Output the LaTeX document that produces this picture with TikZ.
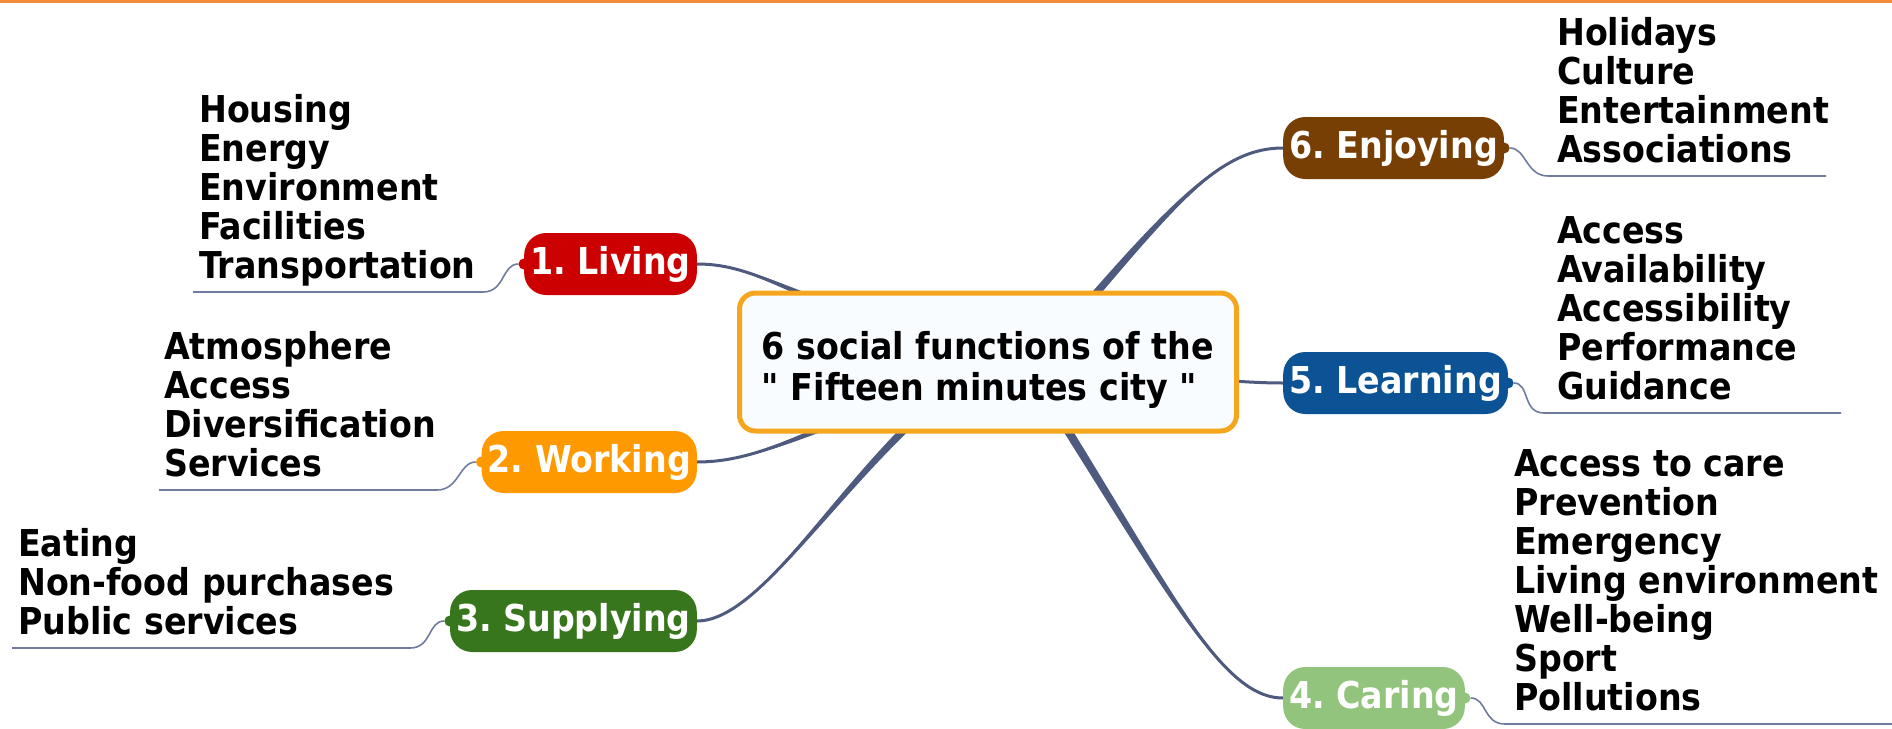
\documentclass[tikz,border=0pt]{standalone}
\usepackage{fontspec}
\setmainfont{DejaVu Sans Condensed}[Ligatures=TeXOff]
\usetikzlibrary{positioning}
\pgfdeclarelayer{background}
\pgfsetlayers{background,main}
\frenchspacing

\definecolor{topline}{HTML}{F28C3A}
\definecolor{branch}{HTML}{4E5A7E}
\definecolor{twig}{HTML}{6F7C9E}
\definecolor{rootedge}{HTML}{F5A61E}
\definecolor{rootfill}{HTML}{F8FCFE}
\definecolor{livingc}{HTML}{CC0000}
\definecolor{workingc}{HTML}{FF9900}
\definecolor{supplyc}{HTML}{38761D}
\definecolor{carec}{HTML}{93C47D}
\definecolor{learnc}{HTML}{0B5394}
\definecolor{enjoyc}{HTML}{783F04}

\tikzset{
  mapfont/.style={font=\fontsize{37}{39}\selectfont\bfseries},
  root/.style={font=\fontsize{37}{41}\selectfont\bfseries, draw=rootedge, line width=5pt,
    fill=rootfill, rounded corners=16pt, minimum width=497pt, minimum height=138pt, align=left},
  topic/.style={mapfont, text=white, fill=#1, rounded corners=22pt,
    minimum height=62pt, inner xsep=6pt},
  knot/.style={circle, fill=#1, inner sep=0pt, minimum size=11pt},
  leaves/.style={mapfont, align=left, anchor=south west, inner xsep=6pt, inner ysep=4pt,
    text depth=9pt},
  branchline/.style={draw=branch, line width=3pt},
  twigline/.style={draw=twig, line width=1.6pt},
}

\begin{document}
\begin{tikzpicture}[x=1pt, y=-1pt]
\useasboundingbox (0,0) rectangle (1892,728);
\fill[topline] (0,0) rectangle (1892,3);

% central topic
\node[root] (root) at (988,362)
  {\rule{0pt}{43pt}6 social functions of the\\" Fifteen minutes city "};
\coordinate (rootlow) at ([yshift=14pt]root.south);
\coordinate (roothigh) at ([yshift=-14pt]root.north);

% left topics
\node[topic=livingc, anchor=east] (living) at (697,264) {1. Living};
\node[topic=workingc, anchor=east] (working) at (697,462) {2. Working};
\node[topic=supplyc, anchor=east] (supplying) at (697,621) {3. Supplying};

% right topics
\node[topic=enjoyc, anchor=west] (enjoying) at (1283,148) {6. Enjoying};
\node[topic=learnc, anchor=west] (learning) at (1283,383) {5. Learning};
\node[topic=carec, anchor=west] (caring) at (1283,698) {4. Caring};

% knots
\node[knot=livingc] (livingk) at (living.west) {};
\node[knot=workingc] (workingk) at (working.west) {};
\node[knot=supplyc] (supplyingk) at (supplying.west) {};
\node[knot=enjoyc] (enjoyingk) at (enjoying.east) {};
\node[knot=learnc] (learningk) at (learning.east) {};
\node[knot=carec] (caringk) at (caring.east) {};

% subtopics
\node[leaves] (livingl) at (193,292) {Housing\\Energy\\Environment\\Facilities\\Transportation};
\node[leaves] (workingl) at (158,490) {Atmosphere\\Access\\Diversification\\Services};
\node[leaves] (supplyingl) at (12,648) {Eating\\Non-food purchases\\Public services};
\node[leaves] (enjoyingl) at (1551,176) {Holidays\\Culture\\Entertainment\\Associations};
\node[leaves] (learningl) at (1551,413) {Access\\Availability\\Accessibility\\Performance\\Guidance};
\node[leaves] (caringl) at (1508,724) {Access to care\\Prevention\\Emergency\\Living environment\\Well-being\\Sport\\Pollutions};

% underlines
\coordinate (livinga) at (483,292);  \coordinate (livingb) at (193,292);
\coordinate (workinga) at (437,490); \coordinate (workingb) at (159,490);
\coordinate (supplyinga) at (410,648); \coordinate (supplyingb) at (12,648);
\coordinate (enjoyinga) at (1548,176); \coordinate (enjoyingb) at (1826,176);
\coordinate (learninga) at (1544,413); \coordinate (learningb) at (1841,413);
\coordinate (caringa) at (1505,724); \coordinate (caringb) at (1892,724);

\foreach \t in {living,working,supplying}
  \draw[twigline] (\t k) .. controls +(-22,0) and +(22,0) .. (\t a) -- (\t b);
\foreach \t in {enjoying,learning,caring}
  \draw[twigline] (\t k) .. controls +(22,0) and +(-22,0) .. (\t a) -- (\t b);

% main branches, tapering from the centre
\begin{pgfonlayer}{background}
\foreach \n/\s/\e/\ca/\cb/\ox/\oy in {
    living/root.center/east/{790,300}/{760,264}/1.35/-4.29,
    working/root.center/east/{810,430}/{760,462}/1.6/4.2,
    supplying/root.center/east/{860,440}/{770,621}/2.34/3.84,
    enjoying/rootlow/west/{1160,220}/{1210,148}/3.49/2.84,
    learning/root.center/west/{1100,362}/{1200,383}/0/4.5,
    caring/roothigh/west/{1160,570}/{1215,698}/3.83/-2.38} {
  \fill[branch] ([shift={(\ox,\oy)}]\s) .. controls ([shift={(\ox,\oy)}]\ca) and (\cb) .. (\n.\e)
    .. controls (\cb) and ([shift={(-\ox,-\oy)}]\ca) .. ([shift={(-\ox,-\oy)}]\s) -- cycle;
  \draw[branchline] (\s) .. controls (\ca) and (\cb) .. (\n.\e);
}
\end{pgfonlayer}
\end{tikzpicture}
\end{document}
